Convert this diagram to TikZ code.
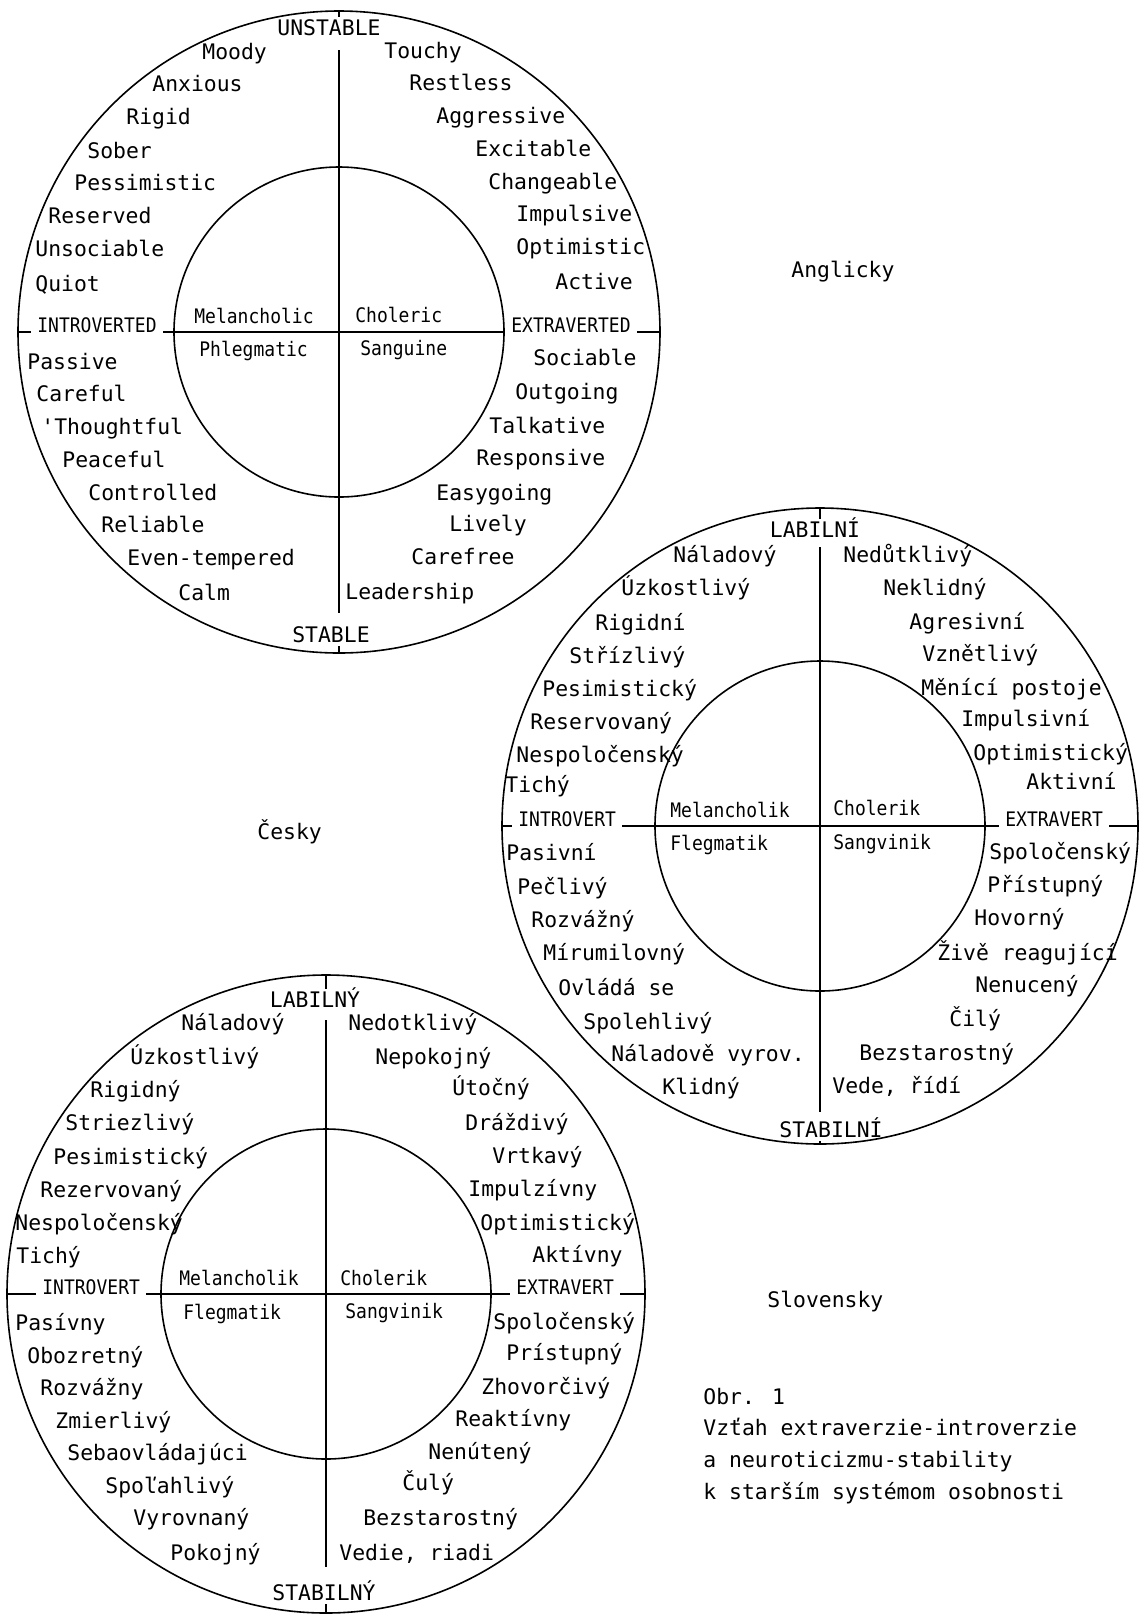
\documentclass[tikz,border=0pt]{standalone}
\usepackage{fontspec}
\newfontfamily\monof{DejaVu Sans Mono}
\newfontfamily\labf[FakeStretch=0.9]{DejaVu Sans Mono}
\begin{document}
\begin{tikzpicture}[x=0.5pt,y=-0.5pt,
  word/.style={font=\monof\fontsize{10.7pt}{12pt}\selectfont, anchor=west, inner sep=0pt, text height=7.8pt, text depth=0pt},
  inlab/.style={font=\labf\fontsize{10pt}{12pt}\selectfont, anchor=west, inner sep=0pt, text height=7.3pt, text depth=0pt},
  axlab/.style={font=\labf\fontsize{10pt}{12pt}\selectfont, anchor=base west, inner xsep=3pt, inner ysep=0pt, text height=7.3pt, text depth=0pt},
  polelab/.style={font=\monof\fontsize{10.7pt}{12pt}\selectfont, inner xsep=0pt, inner ysep=1.5pt, text height=7.8pt, text depth=0pt},
  ring/.style={draw, circle, inner sep=0pt, outer sep=0pt, line width=0.8pt},
  axisline/.style={line width=0.8pt}
]
\useasboundingbox (0,0) rectangle (1141,1614);

% ================= Circle 1 : English =================
\node[ring, minimum size=321pt] (o1) at (339,332) {};
\node[ring, minimum size=165pt] (i1) at (339,332) {};
\node[polelab] (un1) at (329,28) {UNSTABLE};
\node[polelab] (st1) at (331,635) {STABLE};
\node[axlab] (in1) at (31,332) {INTROVERTED};
\node[axlab] (ex1) at (505,332) {EXTRAVERTED};
\coordinate (v1t) at (339,50);
\coordinate (v1b) at (339,613);
\draw[axisline] (o1.north) -- (o1.north |- un1.north);
\draw[axisline] (v1t) -- (v1b);
\draw[axisline] (o1.south |- st1.south) -- (o1.south);
\draw[axisline] (o1.west) -- (in1.base west);
\draw[axisline] (in1.base east) -- (ex1.base west);
\draw[axisline] (ex1.base east) -- (o1.east);

\foreach \x/\y/\t [count=\i] in {202/52/Moody, 152/84/Anxious, 126/117/Rigid, 87/151/Sober,
  74/183/Pessimistic, 48/216/Reserved, 35/249/Unsociable, 35/284/Quiot,
  27/362/Passive, 36/394/Careful, 41/427/'Thoughtful, 62/460/Peaceful,
  88/493/Controlled, 101/525/Reliable, 127/558/Even-tempered, 178/593/Calm}
  \node[word] (el\i) at (\x,\y) {\t};
\foreach \x/\y/\t [count=\i] in {384/51/Touchy, 409/83/Restless, 436/116/Aggressive, 475/149/Excitable,
  488/182/Changeable, 516/214/Impulsive, 516/247/Optimistic, 555/282/Active,
  533/358/Sociable, 515/392/Outgoing, 489/426/Talkative, 476/458/Responsive,
  436/493/Easygoing, 449/524/Lively, 411/557/Carefree, 345/592/Leadership}
  \node[word] (er\i) at (\x,\y) {\t};
\node[inlab] (em1) at (194,316) {Melancholic};
\node[inlab] (em2) at (355,315) {Choleric};
\node[inlab] (em3) at (199,349) {Phlegmatic};
\node[inlab] (em4) at (360,348) {Sanguine};

% ================= Circle 2 : Czech =================
\node[ring, minimum size=318pt] (o2) at (820,826) {};
\node[ring, minimum size=165pt] (i2) at (820,826) {};
\node[polelab] (un2) at (815,530) {LABILNÍ};
\node[polelab] (st2) at (831,1130) {STABILNÍ};
\node[axlab] (in2) at (512,826) {INTROVERT};
\node[axlab] (ex2) at (999,826) {EXTRAVERT};
\coordinate (v2t) at (820,547);
\coordinate (v2b) at (820,1112);
\draw[axisline] (o2.north) -- (o2.north |- un2.north);
\draw[axisline] (v2t) -- (v2b);
\draw[axisline] (o2.south |- st2.south) -- (o2.south);
\draw[axisline] (o2.west) -- (in2.base west);
\draw[axisline] (in2.base east) -- (ex2.base west);
\draw[axisline] (ex2.base east) -- (o2.east);

\foreach \x/\y/\t [count=\i] in {673/555/Náladový, 621/588/Úzkostlivý, 595/623/Rigidní, 569/656/Střízlivý,
  542/689/Pesimistický, 530/722/Reservovaný, 516/755/Nespoločenský, 505/785/Tichý,
  506/853/Pasivní, 517/887/Pečlivý, 531/920/Rozvážný, 543/953/Mírumilovný,
  558/988/Ovládá se, 583/1022/Spolehlivý, 611/1054/Náladově vyrov., 662/1087/Klidný}
  \node[word] (cl\i) at (\x,\y) {\t};
\foreach \x/\y/\t [count=\i] in {843/555/Nedůtklivý, 883/588/Neklidný, 909/622/Agresivní, 922/654/Vznětlivý,
  921/688/Měnící postoje, 961/719/Impulsivní, 973/753/Optimistický, 1026/782/Aktivní,
  989/852/Spoločenský, 987/885/Přístupný, 974/918/Hovorný, 937/953/Živě reagující,
  975/985/Nenucený, 949/1019/Čilý, 859/1053/Bezstarostný, 832/1086/{Vede, řídí}}
  \node[word] (cr\i) at (\x,\y) {\t};
\node[inlab] (cm1) at (670,810) {Melancholik};
\node[inlab] (cm2) at (833,808) {Cholerik};
\node[inlab] (cm3) at (670,843) {Flegmatik};
\node[inlab] (cm4) at (833,842) {Sangvinik};

% ================= Circle 3 : Slovak =================
\node[ring, minimum size=319pt] (o3) at (326,1294) {};
\node[ring, minimum size=165pt] (i3) at (326,1294) {};
\node[polelab] (un3) at (315,1000) {LABILNÝ};
\node[polelab] (st3) at (324,1593) {STABILNÝ};
\node[axlab] (in3) at (36,1294) {INTROVERT};
\node[axlab] (ex3) at (510,1294) {EXTRAVERT};
\coordinate (v3t) at (326,1020);
\coordinate (v3b) at (326,1567);
\draw[axisline] (o3.north) -- (o3.north |- un3.north);
\draw[axisline] (v3t) -- (v3b);
\draw[axisline] (o3.south |- st3.south) -- (o3.south);
\draw[axisline] (o3.west) -- (in3.base west);
\draw[axisline] (in3.base east) -- (ex3.base west);
\draw[axisline] (ex3.base east) -- (o3.east);

\foreach \x/\y/\t [count=\i] in {181/1023/Náladový, 130/1057/Úzkostlivý, 90/1090/Rigidný, 65/1123/Striezlivý,
  53/1157/Pesimistický, 40/1190/Rezervovaný, 15/1223/Nespoločenský, 16/1256/Tichý,
  15/1323/Pasívny, 27/1356/Obozretný, 40/1388/Rozvážny, 55/1421/Zmierlivý,
  67/1453/Sebaovládajúci, 105/1486/Spoľahlivý, 133/1518/Vyrovnaný, 170/1553/Pokojný}
  \node[word] (sl\i) at (\x,\y) {\t};
\foreach \x/\y/\t [count=\i] in {348/1023/Nedotklivý, 375/1057/Nepokojný, 452/1088/Útočný, 465/1123/Dráždivý,
  492/1156/Vrtkavý, 468/1189/Impulzívny, 480/1223/Optimistický, 532/1255/Aktívny,
  493/1322/Spoločenský, 506/1353/Prístupný, 481/1387/Zhovorčivý, 455/1419/Reaktívny,
  428/1452/Nenútený, 402/1483/Čulý, 363/1518/Bezstarostný, 339/1553/{Vedie, riadi}}
  \node[word] (sr\i) at (\x,\y) {\t};
\node[inlab] (sm1) at (179,1278) {Melancholik};
\node[inlab] (sm2) at (340,1278) {Cholerik};
\node[inlab] (sm3) at (183,1312) {Flegmatik};
\node[inlab] (sm4) at (345,1311) {Sangvinik};

% ================= side texts =================
\node[word] (lang1) at (791,270) {Anglicky};
\node[word] (lang2) at (257,832) {Česky};
\node[word] (lang3) at (767,1300) {Slovensky};
\node[word] (cap1) at (703,1397) {Obr. 1};
\node[word] (cap2) at (703,1428) {Vzťah extraverzie-introverzie};
\node[word] (cap3) at (703,1460) {a neuroticizmu-stability};
\node[word] (cap4) at (703,1492) {k starším systémom osobnosti};
\end{tikzpicture}
\end{document}
